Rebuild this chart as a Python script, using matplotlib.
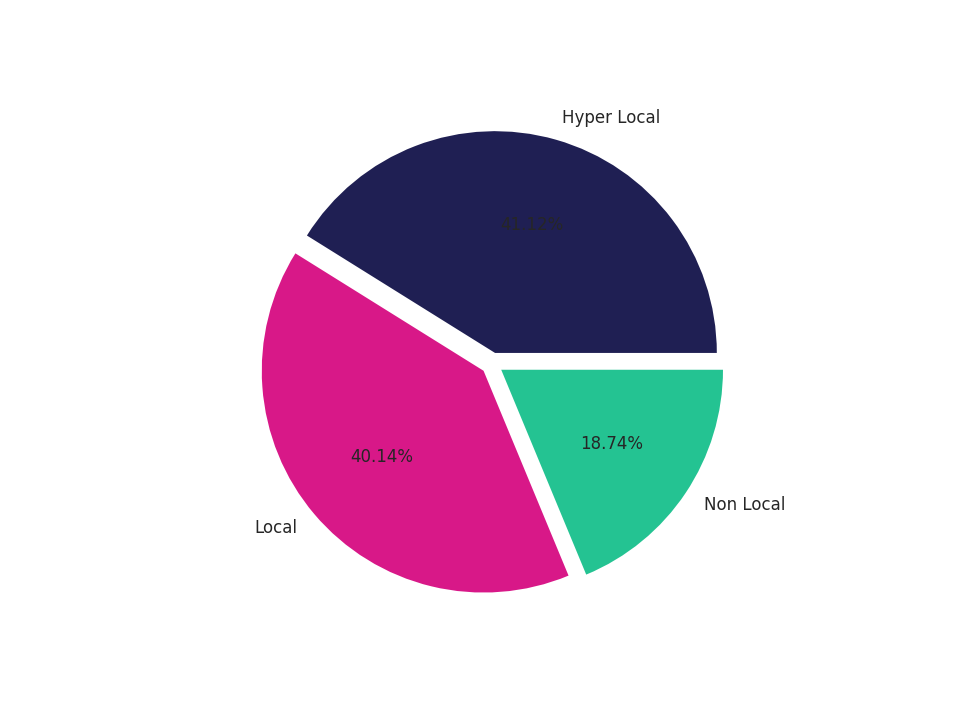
import matplotlib
matplotlib.use("Agg")
import matplotlib.pyplot as plt

labels = ["Hyper Local", "Local", "Non Local"]
values = [41.12, 40.14, 18.74]
colors = ["#1f1f53", "#d81888", "#24c392"]
explode = [0.05, 0.05, 0.05]

fig, ax = plt.subplots(figsize=(9.6, 7.2), dpi=100)
wedges, texts, autotexts = ax.pie(values, labels=labels, colors=colors, explode=explode,
                                  autopct="%.2f%%", textprops={"color": "#262626", "fontsize": 12})
ax.set_aspect("equal")
fig.savefig("out.png", dpi=100)
